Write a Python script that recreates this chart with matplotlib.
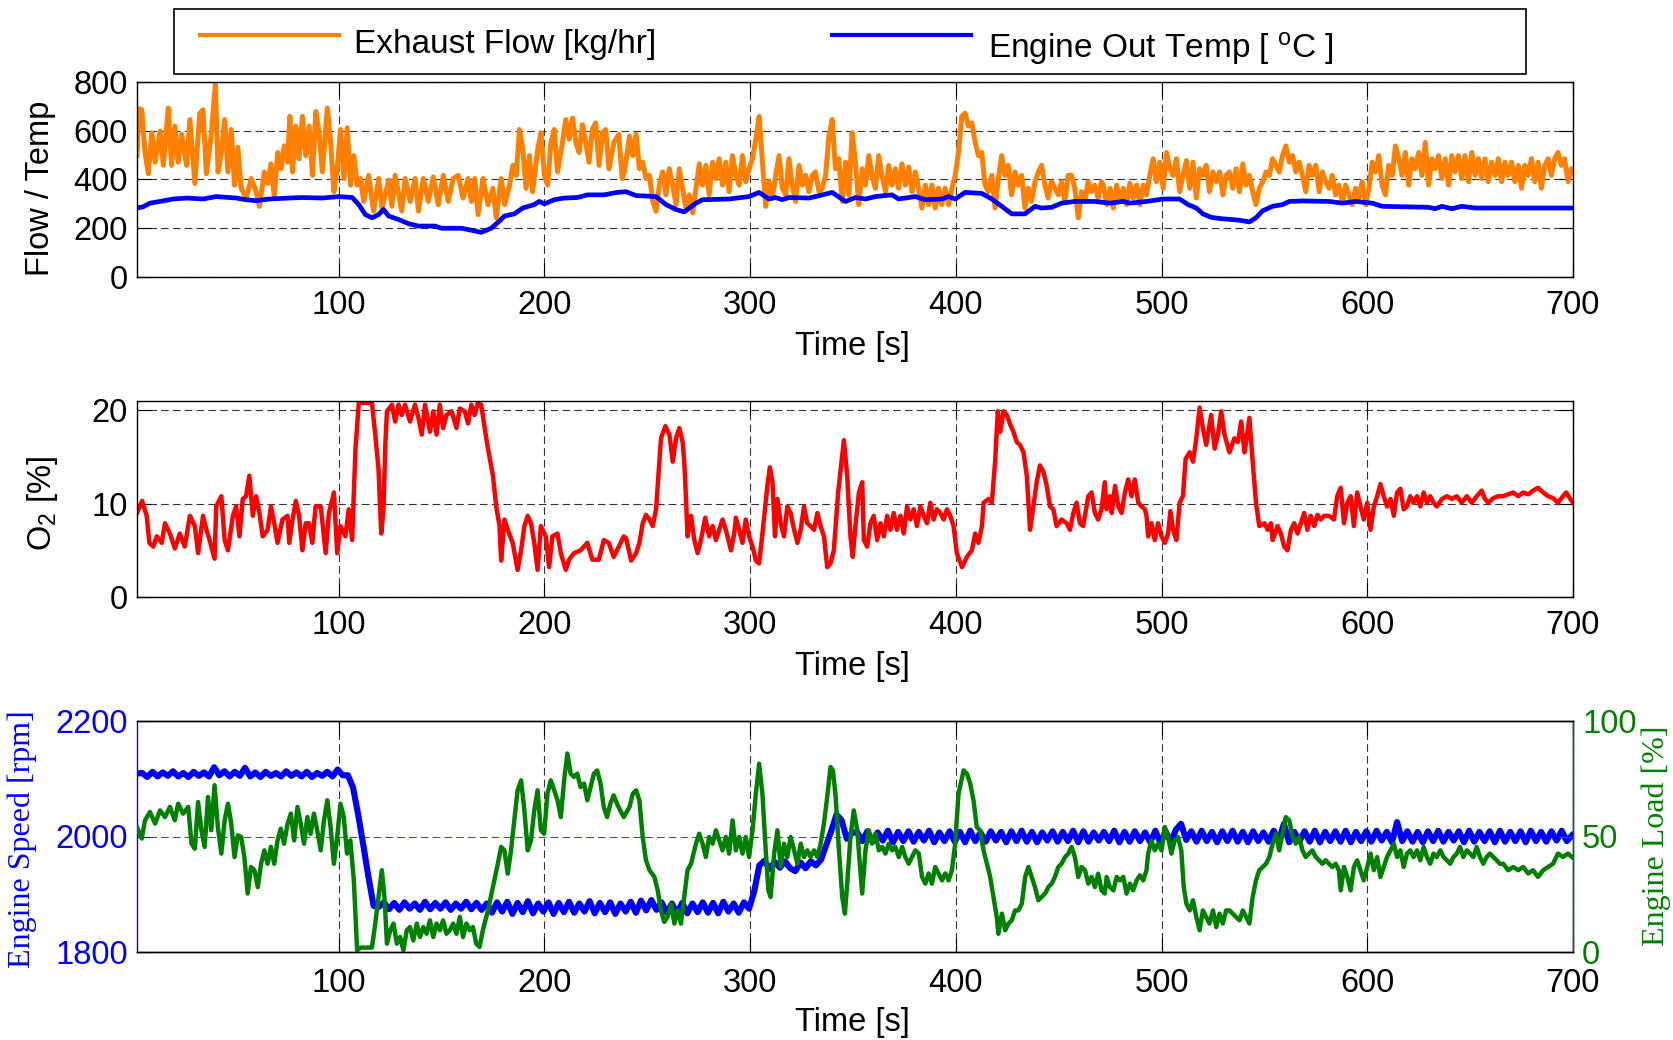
import numpy as np
import matplotlib
matplotlib.use("Agg")
import matplotlib.pyplot as plt
from matplotlib.patches import Rectangle
from matplotlib.lines import Line2D

# ---------------------------------------------------------------- data
# (time [s], exhaust flow [kg/hr])
exhaust_flow = [
    (2.0, 500), (3.0, 690), (4.3, 686), (5.9, 511), (7.5, 424), (9.2, 592), (10.8, 471), (13.2, 599),
    (14.8, 458), (17.2, 693), (18.8, 458), (20.4, 619), (22.0, 471), (23.7, 585), (26.1, 458), (27.7, 646),
    (30.1, 384), (32.5, 672), (34.1, 686), (35.7, 424), (38.2, 592), (40.1, 793), (41.4, 431), (43.0, 511),
    (44.6, 646), (46.2, 431), (47.8, 605), (49.4, 377), (51.0, 532), (52.6, 364), (55.1, 324), (57.5, 404),
    (59.9, 350), (61.5, 290), (63.9, 431), (65.5, 384), (67.1, 464), (68.7, 330), (70.4, 511), (72.0, 444),
    (73.6, 538), (75.2, 471), (76.3, 659), (77.6, 431), (79.2, 619), (80.8, 485), (82.4, 659), (84.0, 498),
    (85.7, 619), (87.3, 417), (88.9, 679), (90.5, 592), (92.1, 431), (94.5, 693), (96.1, 552), (97.7, 350),
    (99.3, 444), (100.9, 605), (102.6, 404), (104.2, 612), (105.8, 377), (107.4, 498), (109.0, 377),
    (110.6, 404), (112.2, 310), (114.6, 417), (117.0, 270), (119.5, 404), (121.1, 283), (124.3, 397),
    (125.9, 290), (127.5, 417), (130.7, 270), (132.3, 404), (134.8, 310), (137.2, 404), (138.8, 270),
    (141.2, 404), (143.6, 310), (146.0, 411), (148.4, 297), (150.9, 417), (153.3, 310), (155.7, 404),
    (158.1, 417), (160.5, 324), (162.9, 404), (164.6, 310), (166.2, 404), (167.8, 256), (170.2, 404),
    (172.6, 297), (175.0, 364), (176.6, 243), (179.0, 404), (180.7, 297), (183.1, 377), (184.7, 458),
    (186.3, 417), (187.9, 605), (189.5, 525), (191.1, 364), (192.7, 498), (194.3, 350), (196.8, 525),
    (198.4, 592), (200.0, 417), (201.6, 377), (203.2, 552), (204.8, 605), (206.4, 431), (208.8, 552),
    (210.4, 646), (212.1, 565), (213.7, 652), (215.3, 552), (216.9, 511), (218.5, 625), (220.1, 552),
    (221.7, 471), (223.3, 605), (224.9, 632), (226.6, 458), (228.2, 592), (229.8, 605), (231.4, 444),
    (233.8, 552), (236.2, 585), (237.8, 404), (238.9, 431), (241.4, 578), (243.0, 498), (244.6, 585),
    (246.2, 444), (247.8, 471), (249.4, 404), (251.1, 417), (252.7, 310), (254.3, 270), (255.9, 377),
    (257.5, 431), (259.1, 337), (260.7, 444), (262.4, 377), (264.0, 297), (265.6, 444), (267.2, 364),
    (268.8, 283), (270.4, 337), (272.1, 263), (273.7, 364), (275.3, 464), (276.9, 377), (278.5, 458),
    (280.1, 337), (281.8, 471), (283.4, 404), (285.0, 485), (286.6, 377), (288.2, 471), (289.8, 350),
    (291.4, 498), (293.1, 417), (294.7, 377), (296.3, 498), (297.9, 391), (299.5, 444), (301.1, 485),
    (302.8, 565), (304.4, 659), (306.0, 471), (307.6, 290), (309.2, 391), (310.8, 324), (312.4, 417),
    (314.1, 498), (315.7, 364), (317.3, 337), (318.9, 485), (320.5, 377), (322.1, 310), (323.8, 458),
    (325.4, 377), (327.0, 417), (328.6, 350), (330.2, 417), (331.8, 431), (333.5, 350), (335.1, 364),
    (336.7, 417), (338.3, 578), (339.9, 646), (341.5, 444), (343.1, 485), (344.8, 310), (346.4, 471),
    (348.0, 337), (349.6, 592), (351.2, 471), (352.8, 297), (354.5, 444), (356.1, 377), (357.7, 498),
    (359.3, 417), (360.9, 364), (362.5, 498), (364.1, 417), (365.8, 350), (367.4, 458), (369.0, 377),
    (370.6, 444), (372.2, 364), (373.8, 464), (375.5, 377), (377.1, 451), (378.7, 350), (380.3, 431),
    (381.9, 364), (383.5, 283), (385.2, 377), (386.8, 297), (388.4, 377), (390.0, 283), (391.6, 364),
    (393.2, 297), (394.8, 364), (396.5, 297), (398.1, 364), (399.7, 417), (401.3, 511), (402.9, 659),
    (404.5, 672), (406.1, 619), (407.8, 632), (409.4, 552), (411.0, 498), (412.6, 511), (414.2, 377),
    (415.8, 350), (417.5, 417), (419.1, 283), (420.7, 404), (422.3, 498), (423.9, 417), (425.5, 458),
    (427.1, 337), (428.8, 431), (430.4, 377), (432.0, 417), (433.6, 283), (435.2, 364), (436.8, 310),
    (438.5, 391), (440.1, 431), (441.7, 458), (443.3, 377), (444.9, 324), (446.5, 391), (448.2, 364),
    (449.8, 337), (451.4, 391), (453.0, 310), (454.6, 417), (456.2, 417), (457.8, 364), (459.5, 243),
    (461.1, 350), (462.7, 310), (464.3, 391), (465.9, 350), (467.5, 377), (469.2, 324), (470.8, 391),
    (471.7, 377), (473.3, 297), (475.0, 364), (476.6, 283), (478.2, 377), (479.8, 310), (481.4, 364),
    (483.0, 297), (484.6, 384), (486.2, 324), (487.9, 377), (489.5, 297), (491.1, 377), (492.7, 337),
    (494.3, 417), (495.9, 485), (497.5, 391), (499.1, 471), (500.8, 364), (502.4, 511), (504.0, 444),
    (505.6, 417), (507.2, 485), (508.8, 350), (510.4, 417), (512.1, 478), (513.7, 364), (515.3, 471),
    (516.9, 324), (518.5, 444), (520.1, 417), (521.7, 458), (523.3, 350), (525.0, 431), (526.6, 391),
    (528.2, 431), (529.8, 337), (531.4, 417), (533.0, 431), (534.6, 364), (536.2, 444), (537.9, 350),
    (539.5, 464), (541.1, 377), (542.7, 417), (544.3, 350), (545.9, 297), (547.5, 364), (549.2, 391),
    (550.8, 431), (552.4, 417), (554.0, 485), (555.6, 458), (557.2, 431), (558.8, 498), (560.4, 538),
    (562.1, 471), (563.7, 498), (565.3, 431), (566.9, 471), (568.5, 417), (570.1, 350), (571.7, 458),
    (573.3, 417), (575.0, 458), (576.6, 350), (578.2, 431), (579.8, 391), (581.4, 364), (583.0, 417),
    (584.6, 337), (586.2, 377), (587.9, 310), (589.5, 377), (591.1, 337), (592.7, 297), (594.3, 364),
    (595.9, 324), (597.5, 391), (599.2, 297), (600.8, 364), (602.4, 471), (604.0, 431), (605.6, 498),
    (607.2, 377), (608.8, 337), (610.4, 458), (612.1, 417), (613.7, 538), (615.3, 485), (616.9, 417),
    (618.5, 511), (620.1, 377), (621.7, 485), (623.3, 444), (625.0, 511), (626.6, 417), (628.2, 552),
    (629.8, 377), (631.4, 485), (633.0, 444), (634.6, 498), (636.3, 404), (637.9, 485), (639.5, 377),
    (641.1, 498), (642.7, 431), (644.3, 498), (645.9, 404), (647.5, 498), (649.2, 391), (650.8, 511),
    (652.4, 417), (654.0, 485), (655.6, 404), (657.2, 485), (658.8, 391), (660.4, 471), (662.1, 417),
    (663.7, 485), (665.3, 391), (666.9, 471), (668.5, 417), (670.1, 471), (671.7, 391), (673.4, 458),
    (675.0, 364), (676.6, 458), (678.2, 417), (679.8, 485), (681.4, 391), (683.0, 471), (684.6, 364),
    (686.3, 458), (687.9, 485), (689.5, 417), (691.1, 485), (692.7, 511), (694.3, 458), (695.9, 485),
    (697.6, 391), (699.2, 444), (700.0, 430),
]

# (time [s], engine-out temperature [degC])
engine_out_temp = [
    (2.0, 283), (5.0, 288), (8.3, 303), (13.2, 310), (19.6, 320), (26.1, 324), (34.1, 320), (40.5, 330),
    (50.2, 324), (55.0, 317), (59.9, 313), (66.3, 320), (76.0, 324), (82.4, 326), (92.1, 324), (100.1, 330),
    (106.6, 326), (109.8, 297), (113.0, 256), (116.2, 243), (119.4, 256), (121.8, 277), (124.3, 250),
    (129.1, 236), (133.9, 219), (138.8, 209), (146.8, 209), (150.0, 200), (159.7, 200), (164.5, 192),
    (169.3, 183), (174.2, 200), (178.2, 230), (180.6, 250), (185.4, 259), (189.5, 283), (195.1, 297),
    (197.5, 310), (200.0, 300), (204.8, 317), (209.6, 324), (216.0, 326), (220.9, 337), (228.9, 337),
    (235.4, 347), (239.7, 350), (244.6, 334), (254.3, 330), (259.1, 297), (264.0, 277), (268.0, 267),
    (273.7, 303), (276.9, 317), (289.8, 320), (299.5, 330), (304.4, 347), (309.2, 320), (312.4, 326),
    (315.7, 317), (318.9, 326), (328.6, 324), (331.8, 330), (339.9, 347), (346.4, 310), (351.2, 326),
    (356.1, 320), (360.9, 330), (369.0, 337), (372.2, 320), (380.3, 330), (385.2, 317), (393.2, 320),
    (396.5, 330), (399.7, 320), (404.5, 347), (412.6, 343), (417.5, 320), (422.3, 290), (427.2, 259),
    (433.6, 259), (438.5, 290), (441.7, 283), (446.6, 286), (451.4, 303), (457.9, 310), (467.6, 310),
    (474.9, 303), (481.4, 310), (484.6, 303), (492.7, 310), (500.8, 320), (508.8, 320), (512.9, 297),
    (516.9, 283), (520.1, 259), (524.1, 245), (528.2, 240), (537.9, 233), (542.7, 226), (545.9, 243),
    (549.2, 272), (554.0, 290), (558.8, 297), (562.1, 310), (568.5, 312), (581.4, 310), (587.9, 303),
    (594.3, 310), (602.4, 303), (607.2, 290), (629.8, 286), (633.0, 280), (636.3, 290), (641.1, 280),
    (645.9, 290), (652.4, 283), (657.2, 283), (699.2, 283), (700.0, 283),
]

# (time [s], O2 [%])
o2_percent = [
    (2.0, 9.0), (4.5, 10.3), (6.7, 8.7), (8.0, 5.8), (9.9, 5.4), (11.6, 6.5), (14.0, 5.8), (15.6, 7.9),
    (18.0, 6.8), (20.4, 5.2), (22.8, 6.8), (25.2, 5.4), (27.7, 8.7), (30.1, 7.6), (31.7, 4.7), (34.1, 8.7),
    (35.7, 7.2), (37.3, 6.1), (39.7, 4.1), (40.5, 9.7), (43.0, 10.8), (44.6, 6.1), (46.2, 5.0), (48.6, 8.7),
    (50.2, 9.7), (51.8, 6.5), (53.4, 10.5), (55.0, 10.8), (56.6, 13.0), (58.3, 8.7), (59.9, 10.8),
    (61.5, 9.0), (63.1, 6.5), (65.5, 7.2), (67.1, 9.7), (68.7, 7.9), (70.3, 5.8), (72.7, 8.3), (75.2, 8.7),
    (76.0, 5.8), (77.6, 8.3), (79.2, 10.3), (80.8, 8.7), (82.4, 5.0), (84.0, 7.9), (85.6, 7.9), (87.2, 5.8),
    (88.8, 9.7), (91.3, 9.7), (93.7, 4.7), (95.3, 9.0), (97.7, 11.2), (99.3, 4.7), (100.9, 7.6),
    (103.3, 6.5), (104.9, 9.4), (106.6, 6.1), (107.4, 11.2), (108.2, 15.9), (109.8, 20.8), (116.2, 20.8),
    (117.8, 17.4), (119.4, 13.7), (120.7, 6.8), (121.8, 9.4), (122.7, 16.3), (123.5, 19.9), (125.9, 20.6),
    (127.5, 18.8), (129.1, 20.6), (130.7, 19.5), (132.3, 20.6), (134.7, 18.8), (137.1, 20.6), (138.8, 19.2),
    (140.4, 17.4), (142.0, 20.6), (144.4, 17.7), (146.0, 19.9), (147.6, 17.4), (149.2, 20.6), (150.8, 18.1),
    (152.4, 19.5), (154.9, 19.9), (157.3, 18.1), (158.9, 20.2), (161.3, 19.9), (162.9, 18.6), (164.5, 20.6),
    (166.1, 19.5), (167.7, 20.8), (169.3, 20.6), (171.0, 18.1), (172.6, 15.9), (175.0, 13.0), (176.6, 9.7),
    (178.2, 7.6), (179.0, 3.9), (180.6, 8.3), (182.2, 7.2), (184.6, 5.8), (187.0, 2.9), (188.7, 5.0),
    (190.3, 7.6), (191.9, 8.7), (193.5, 7.9), (195.1, 5.8), (196.7, 2.9), (198.3, 7.6), (200.7, 6.5),
    (202.3, 3.2), (203.9, 6.5), (206.4, 6.8), (208.0, 4.7), (210.4, 2.9), (212.0, 4.0), (214.4, 4.7),
    (217.6, 5.0), (220.9, 5.8), (223.3, 4.0), (226.5, 4.0), (228.9, 6.1), (231.3, 5.8), (233.7, 4.3),
    (236.2, 5.4), (238.6, 6.5), (239.7, 6.3), (242.2, 3.9), (244.6, 4.7), (246.2, 5.8), (247.8, 7.9),
    (249.4, 8.8), (251.1, 8.3), (252.7, 7.6), (254.3, 9.4), (255.6, 13.6), (256.7, 17.0), (258.8, 18.3),
    (260.8, 17.4), (262.4, 14.5), (264.0, 17.0), (265.6, 18.1), (267.2, 16.6), (268.0, 14.5), (268.8, 10.8),
    (269.6, 6.5), (271.3, 8.7), (272.9, 6.1), (274.5, 4.7), (276.1, 6.1), (278.2, 8.5), (280.1, 6.5),
    (281.8, 7.6), (283.4, 6.1), (286.6, 8.3), (288.2, 7.2), (290.7, 5.0), (292.3, 6.8), (293.1, 8.5),
    (294.7, 7.2), (296.3, 5.8), (297.9, 8.3), (299.5, 6.5), (301.2, 5.4), (302.8, 3.9), (304.4, 3.6),
    (306.0, 6.8), (308.4, 11.9), (309.6, 13.9), (310.9, 12.3), (312.1, 6.5), (313.3, 10.5), (314.9, 7.9),
    (316.5, 6.5), (318.1, 9.7), (319.7, 9.0), (321.4, 7.2), (323.0, 5.8), (324.6, 7.2), (326.2, 9.7),
    (327.8, 7.9), (329.4, 7.6), (331.1, 7.2), (332.7, 9.0), (334.3, 7.6), (335.9, 6.5), (337.5, 3.2),
    (339.1, 3.6), (340.7, 5.0), (342.8, 11.2), (344.8, 15.2), (345.6, 16.8), (347.2, 13.0), (348.8, 6.5),
    (349.9, 4.3), (351.2, 7.6), (352.9, 11.2), (354.5, 12.3), (355.3, 6.1), (356.9, 5.4), (358.5, 7.9),
    (360.1, 8.7), (361.8, 6.1), (363.4, 7.9), (365.0, 6.5), (366.6, 8.7), (368.2, 7.2), (369.8, 9.0),
    (371.4, 7.2), (373.1, 8.7), (374.7, 6.8), (376.3, 9.7), (377.9, 8.3), (379.5, 9.4), (381.1, 7.6),
    (382.8, 9.7), (384.4, 8.7), (386.0, 7.9), (387.6, 10.1), (389.2, 8.3), (390.8, 9.4), (392.5, 9.0),
    (394.1, 8.3), (395.7, 9.4), (397.3, 8.7), (398.9, 7.6), (400.5, 4.7), (403.0, 3.2), (405.4, 4.3),
    (407.8, 5.0), (409.4, 6.8), (411.0, 5.8), (412.7, 7.6), (413.5, 10.1), (415.9, 10.5), (417.5, 10.1),
    (419.1, 14.5), (420.4, 19.9), (421.6, 17.7), (423.2, 19.9), (424.8, 19.5), (426.4, 18.5), (428.0, 17.7),
    (429.6, 16.6), (431.2, 16.3), (432.9, 15.5), (434.5, 13.0), (436.1, 7.2), (437.7, 9.7), (439.3, 12.3),
    (440.9, 14.1), (442.6, 13.4), (444.2, 11.9), (445.8, 9.7), (447.4, 9.4), (449.0, 7.6), (451.4, 8.3),
    (453.9, 7.9), (455.5, 7.2), (457.1, 9.0), (458.7, 10.1), (460.3, 7.9), (461.9, 7.6), (464.4, 10.8),
    (466.0, 11.2), (467.6, 9.0), (469.2, 8.3), (470.8, 9.4), (472.4, 12.3), (473.3, 9.4), (474.9, 10.8),
    (475.8, 9.0), (477.4, 11.9), (479.0, 9.7), (480.6, 9.0), (482.2, 11.2), (483.8, 12.6), (485.4, 10.8),
    (487.0, 12.6), (488.7, 10.1), (490.3, 9.7), (491.9, 9.4), (492.7, 8.7), (493.5, 6.5), (495.1, 7.9),
    (496.7, 6.1), (498.3, 7.9), (500.0, 6.5), (501.6, 5.8), (503.2, 6.8), (504.3, 9.2), (505.6, 7.2),
    (507.2, 6.1), (508.8, 10.1), (510.4, 10.8), (511.7, 14.8), (513.7, 15.5), (515.3, 14.5), (516.9, 17.0),
    (518.5, 20.3), (520.1, 18.1), (521.7, 16.3), (524.1, 19.5), (525.8, 15.9), (527.4, 17.4), (529.0, 19.9),
    (530.6, 17.4), (533.0, 15.5), (535.4, 17.0), (537.1, 16.6), (538.7, 18.8), (540.3, 15.5), (541.1, 16.6),
    (542.7, 19.2), (544.3, 14.5), (545.9, 10.1), (547.5, 7.6), (550.0, 7.9), (551.6, 7.2), (553.2, 7.9),
    (554.0, 6.1), (556.4, 7.6), (558.0, 6.8), (559.6, 5.4), (561.2, 5.0), (562.9, 7.2), (564.5, 7.9),
    (566.1, 6.8), (567.7, 7.9), (569.3, 9.0), (570.9, 7.2), (572.5, 8.7), (574.2, 7.6), (575.8, 8.8),
    (577.4, 8.3), (579.0, 8.7), (581.4, 8.7), (583.8, 8.3), (585.4, 10.8), (587.1, 11.7), (588.7, 7.9),
    (590.3, 10.1), (591.9, 10.8), (593.5, 7.6), (595.1, 11.2), (596.7, 9.7), (598.3, 8.3), (600.0, 10.1),
    (601.6, 7.2), (603.2, 9.7), (604.8, 10.8), (606.4, 12.1), (608.0, 10.8), (609.6, 9.7), (611.3, 10.5),
    (612.9, 8.7), (614.5, 11.2), (616.1, 11.6), (617.7, 9.4), (619.3, 9.7), (620.9, 10.8), (622.5, 10.1),
    (624.2, 10.8), (625.8, 9.7), (627.4, 11.2), (629.0, 10.1), (630.6, 10.8), (632.2, 10.1), (633.8, 9.7),
    (636.3, 10.5), (638.7, 10.8), (641.1, 10.5), (643.5, 10.8), (645.9, 10.1), (648.4, 10.8), (650.8, 10.1),
    (653.2, 10.8), (655.6, 11.4), (657.2, 10.5), (658.8, 10.1), (661.3, 10.6), (663.7, 10.8), (666.1, 10.8),
    (668.5, 11.0), (670.9, 11.2), (673.4, 10.8), (675.8, 11.2), (678.2, 11.0), (680.6, 11.4), (683.0, 11.7),
    (685.5, 11.2), (687.9, 10.8), (690.3, 10.6), (692.7, 10.1), (695.1, 10.8), (696.7, 11.2), (698.4, 10.6),
    (700.0, 10.1),
]

# engine speed [rpm], logged every 2.5 s from t = 2 s
speed_start, speed_step = 2.0, 2.5
engine_speed = [
    2109, 2110, 2103, 2112, 2104, 2111, 2105, 2113, 2104, 2110, 2103,
    2112, 2105, 2111, 2104, 2120, 2106, 2113, 2104, 2112, 2105,
    2119, 2104, 2111, 2103, 2112, 2105, 2110, 2104, 2113, 2105,
    2111, 2104, 2112, 2103, 2110, 2105, 2112, 2104, 2116, 2106,
    2106, 2085, 2038, 1985, 1930, 1880,
    1878, 1886, 1874, 1885, 1873, 1886, 1875, 1884, 1873, 1887,
    1874, 1885, 1875, 1886, 1873, 1884, 1875, 1887, 1874, 1885, 1873,
    1884, 1868, 1886, 1870, 1887, 1866, 1885, 1869, 1888, 1867,
    1884, 1870, 1886, 1866, 1885, 1869, 1887, 1868, 1884, 1870,
    1888, 1867, 1885, 1869, 1886, 1866, 1884, 1870, 1887, 1868,
    1889, 1872, 1890, 1873, 1886, 1868, 1884, 1866, 1885, 1867,
    1884, 1869, 1886, 1868, 1885, 1867, 1887, 1870, 1884, 1868,
    1886, 1875,
    1905, 1950, 1958, 1944, 1956, 1946, 1957, 1945, 1940, 1955,
    1945, 1957, 1950, 1960, 1985, 2010, 2038, 2028, 1996, 2006,
    2008, 1992, 2009, 1991, 2007, 1993, 2010, 1990, 2008, 1992,
    2009, 1991, 2008, 1993, 2010, 1990, 2007, 1992, 2009, 1991,
    2008, 1990, 2010, 1992, 2007, 1991, 2009, 1993, 2008, 1990,
    2009, 1992, 2010, 1991, 2008, 1990, 2007, 1993, 2009, 1991,
    2008, 1992, 2010, 1990, 2009, 1991, 2007, 1993, 2008, 1992,
    2010, 1990, 2008, 1991, 2009, 1992, 2007, 1990, 2010, 1988,
    2009, 1990, 2012, 2022, 1994, 2009, 1991, 2010, 1992, 2008,
    1990, 2009, 1992, 2010, 1991, 2008, 1990, 2009, 1992, 2007,
    1991, 2010, 1993, 2022, 1990, 2008, 1992, 2009, 1991, 2010,
    1990, 2008, 1992, 2009, 1991, 2010, 1990, 2008, 1992, 2009,
    1991, 2010, 1993, 2008, 1990, 2025, 1992, 2009, 1991, 2008,
    1990, 2009, 1992, 2010, 1991, 2008, 1993, 2009, 1990, 2010,
    1991, 2008, 1992, 2009, 1990, 2010, 1991, 2008, 1992, 2009,
    1990, 2010, 1992, 2008, 1991, 2009, 1993, 2010, 1992, 2002,
]

# (time [s], engine load [%])
engine_load = [
    (2.0, 54.0), (4.3, 49.1), (5.9, 57.0), (8.3, 60.6), (10.8, 55.6), (13.2, 61.3), (15.6, 58.4),
    (18.0, 62.8), (20.4, 57.0), (22.0, 64.2), (24.4, 59.9), (26.9, 62.8), (28.5, 46.9), (30.1, 44.7),
    (31.7, 64.9), (33.3, 52.7), (34.9, 45.5), (36.5, 67.1), (38.1, 52.7), (39.7, 72.2), (41.3, 54.1),
    (43.0, 42.6), (44.6, 57.0), (46.2, 64.2), (47.8, 55.6), (49.4, 41.1), (51.0, 50.5), (52.6, 49.8),
    (54.2, 41.1), (55.8, 25.3), (57.4, 36.8), (59.1, 35.4), (60.7, 28.1), (62.3, 38.2), (63.9, 44.0),
    (65.5, 38.2), (67.1, 45.5), (68.7, 38.2), (70.3, 48.3), (71.9, 53.4), (73.5, 46.9), (75.2, 55.6),
    (76.8, 59.9), (78.4, 48.3), (80.0, 62.8), (81.6, 55.6), (83.2, 46.9), (84.8, 58.4), (86.4, 51.2),
    (88.0, 59.9), (89.6, 52.7), (91.3, 44.0), (92.9, 57.0), (94.5, 65.7), (96.1, 54.1), (97.7, 38.2),
    (99.3, 49.8), (100.9, 64.2), (102.5, 58.4), (104.1, 42.6), (105.7, 48.3), (107.4, 31.0), (109.0, 0.7),
    (110.6, 1.9), (116.2, 1.9), (117.8, 12.3), (119.4, 23.8), (121.0, 35.4), (122.3, 23.8), (123.5, 3.6),
    (125.1, 9.4), (126.7, 12.3), (128.3, 3.6), (129.9, 6.5), (131.5, 0.7), (133.1, 9.4), (134.7, 10.8),
    (136.3, 5.0), (138.0, 12.3), (139.6, 6.5), (141.2, 10.8), (142.8, 7.9), (144.4, 13.7), (146.0, 6.5),
    (147.6, 12.3), (149.2, 9.4), (150.8, 13.7), (152.4, 7.9), (154.0, 9.4), (155.7, 12.3), (157.3, 7.9),
    (158.9, 15.2), (160.5, 6.5), (162.1, 12.3), (163.7, 9.4), (165.3, 10.8), (166.9, 3.6), (168.5, 2.2),
    (170.1, 9.4), (172.6, 18.0), (175.0, 28.1), (177.4, 38.2), (179.0, 45.5), (180.6, 44.0), (182.2, 33.9),
    (183.8, 44.0), (185.4, 57.0), (187.0, 70.0), (188.7, 74.3), (190.3, 61.3), (191.9, 44.0), (193.5, 48.3),
    (195.1, 61.3), (196.7, 70.0), (198.3, 52.7), (199.9, 51.2), (201.5, 68.5), (203.1, 74.3), (204.8, 70.0),
    (206.4, 65.7), (208.0, 58.4), (209.6, 74.3), (211.2, 85.9), (212.8, 77.2), (214.4, 75.8), (216.0, 77.2),
    (217.6, 71.4), (219.3, 72.9), (220.9, 65.7), (222.5, 71.4), (224.1, 77.2), (225.7, 78.6), (227.3, 72.9),
    (228.9, 62.8), (230.5, 58.4), (232.1, 64.2), (233.7, 67.8), (235.3, 64.2), (236.9, 61.3), (238.6, 58.4),
    (241.4, 62.8), (243.0, 68.5), (244.6, 70.0), (246.2, 65.7), (247.8, 49.8), (249.4, 39.7), (251.1, 35.4),
    (253.5, 32.5), (255.1, 26.7), (256.7, 18.0), (258.3, 13.0), (259.9, 15.2), (261.6, 20.9), (263.2, 12.3),
    (264.8, 18.0), (266.4, 12.3), (268.0, 23.8), (269.6, 35.4), (271.3, 38.2), (273.7, 46.9), (275.3, 51.2),
    (276.9, 46.9), (278.5, 41.1), (280.1, 49.8), (281.8, 46.9), (283.4, 52.7), (285.0, 48.3), (286.6, 44.0),
    (288.2, 49.8), (289.8, 42.6), (291.5, 57.0), (293.1, 44.0), (294.7, 49.8), (296.3, 42.6), (297.9, 49.8),
    (299.5, 41.1), (301.2, 52.7), (302.8, 68.5), (304.4, 81.5), (306.0, 68.5), (307.6, 44.0), (308.9, 26.7),
    (310.0, 23.8), (311.7, 42.6), (313.3, 52.7), (314.9, 36.8), (316.5, 46.9), (318.1, 41.1), (319.7, 49.8),
    (321.4, 44.0), (323.0, 38.2), (324.6, 46.9), (326.2, 41.1), (327.8, 44.0), (329.4, 41.1), (331.1, 44.0),
    (332.7, 41.1), (334.3, 46.9), (335.9, 55.6), (337.5, 67.1), (339.1, 80.1), (340.3, 78.6), (341.6, 67.1),
    (343.2, 44.0), (344.8, 23.8), (346.1, 16.6), (347.2, 29.6), (348.8, 49.8), (350.4, 61.3), (352.1, 52.7),
    (353.2, 39.7), (354.5, 25.3), (356.1, 44.0), (357.7, 52.7), (359.3, 46.9), (360.9, 51.2), (362.6, 44.0),
    (364.2, 45.5), (365.8, 42.6), (367.4, 46.9), (369.0, 44.0), (370.6, 45.5), (372.3, 41.1), (373.9, 45.5),
    (375.5, 41.1), (377.1, 38.2), (378.7, 41.1), (380.3, 44.0), (382.0, 42.6), (383.6, 32.5), (385.2, 29.6),
    (386.8, 34.0), (388.4, 29.6), (390.0, 36.8), (391.6, 34.0), (393.3, 31.0), (394.9, 34.0), (396.5, 31.0),
    (398.1, 35.4), (399.7, 46.9), (401.3, 68.5), (403.8, 78.6), (405.4, 77.2), (407.0, 72.9), (408.6, 65.7),
    (410.2, 54.1), (411.8, 52.7), (413.5, 44.0), (415.1, 38.2), (416.7, 32.5), (418.3, 23.8), (419.9, 15.2),
    (420.7, 7.9), (422.4, 16.6), (424.0, 9.4), (425.6, 12.3), (427.2, 13.7), (428.8, 18.0), (430.4, 18.0),
    (432.1, 20.9), (433.7, 32.5), (435.3, 36.8), (436.9, 32.5), (438.5, 28.1), (440.1, 22.4), (441.7, 23.8),
    (443.4, 25.3), (445.0, 28.1), (446.6, 29.6), (448.2, 32.5), (449.8, 36.8), (451.4, 38.2), (453.1, 41.1),
    (454.7, 42.6), (456.3, 45.5), (457.9, 41.1), (459.5, 32.5), (461.1, 36.8), (462.8, 35.4), (464.4, 29.6),
    (466.0, 32.5), (467.6, 28.1), (469.2, 33.9), (470.8, 26.7), (472.4, 25.3), (473.3, 32.5), (474.9, 28.1),
    (476.6, 26.7), (478.2, 32.5), (479.8, 31.0), (481.4, 32.5), (483.0, 25.3), (484.6, 29.6), (486.2, 26.7),
    (487.9, 31.0), (489.5, 33.2), (491.1, 31.0), (492.7, 35.4), (493.5, 42.6), (495.1, 48.3), (496.7, 44.0),
    (498.3, 46.9), (500.0, 44.0), (501.6, 54.1), (503.2, 49.8), (504.8, 42.6), (506.4, 48.3), (508.0, 49.8),
    (509.6, 44.0), (510.8, 28.1), (512.1, 20.9), (513.7, 18.0), (515.3, 22.4), (516.9, 15.2), (518.5, 9.4),
    (520.1, 18.0), (521.7, 15.2), (523.3, 12.3), (525.0, 18.0), (526.6, 10.8), (528.2, 16.6), (529.8, 12.3),
    (531.4, 18.0), (533.0, 18.0), (534.6, 16.6), (536.2, 15.2), (537.9, 13.7), (539.5, 18.0), (541.1, 15.2),
    (542.7, 12.3), (544.3, 23.8), (545.9, 31.0), (547.5, 35.4), (549.2, 36.8), (550.8, 38.2), (552.4, 41.1),
    (554.0, 46.9), (555.6, 51.2), (557.2, 44.0), (558.8, 51.2), (560.4, 58.4), (562.1, 57.0), (563.7, 49.8),
    (565.3, 46.9), (566.9, 49.8), (568.5, 44.0), (570.1, 41.1), (571.7, 42.6), (573.3, 44.0), (575.0, 41.1),
    (576.6, 39.7), (578.2, 38.2), (579.8, 39.7), (581.4, 38.2), (583.0, 36.8), (584.6, 38.2), (586.2, 35.4),
    (587.1, 26.7), (588.7, 36.8), (590.3, 32.5), (591.9, 26.7), (593.5, 36.8), (595.1, 39.7), (596.7, 35.4),
    (598.3, 31.0), (600.0, 36.8), (601.6, 42.6), (603.2, 35.4), (604.8, 41.1), (606.4, 32.5), (608.0, 36.8),
    (609.6, 41.1), (611.3, 44.0), (612.9, 46.9), (614.5, 41.1), (616.1, 44.0), (617.7, 36.8), (619.3, 42.6),
    (620.9, 44.0), (622.5, 41.1), (624.2, 44.0), (625.8, 39.7), (627.4, 45.5), (629.0, 41.1), (630.6, 38.2),
    (632.2, 42.6), (633.8, 41.1), (635.5, 44.0), (637.1, 41.1), (638.7, 39.7), (640.3, 38.2), (641.9, 41.1),
    (643.5, 42.6), (645.1, 45.5), (646.7, 41.1), (648.4, 44.0), (650.0, 42.6), (651.6, 41.1), (653.2, 45.5),
    (654.8, 41.1), (656.4, 38.2), (658.0, 41.1), (659.6, 42.6), (661.3, 41.1), (662.9, 39.7), (664.5, 38.2),
    (666.1, 38.2), (668.5, 35.4), (670.9, 36.8), (673.4, 35.4), (675.8, 36.8), (678.2, 34.0), (680.6, 35.4),
    (683.0, 32.5), (685.5, 35.4), (687.9, 36.8), (690.3, 38.2), (692.7, 42.6), (695.1, 41.1), (697.6, 42.6),
    (699.5, 41.1),
]

time_ticks = [100, 200, 300, 400, 500, 600, 700]
flow_ticks = [0, 200, 400, 600, 800]
o2_ticks = [0, 10, 20]
speed_ticks = [1800, 2000, 2200]
load_ticks = [0, 50, 100]

# ---------------------------------------------------------------- style
plt.rcParams.update({
    "font.family": ["Liberation Sans", "DejaVu Sans"],
    "mathtext.fontset": "custom",
    "mathtext.rm": "Liberation Sans",
    "mathtext.it": "Liberation Sans:italic",
    "mathtext.bf": "Liberation Sans:bold",
    "mathtext.default": "regular",
    "lines.scale_dashes": False,
    "axes.linewidth": 1.0,
})

ORANGE = "#FF8000"
BLUE = "#0000FF"
RED = "#FF0000"
GREEN = "#008000"
DASH = (0, (5.5, 3.0))
FS = 23.5

W_PX, H_PX = 1673, 1040
fig = plt.figure(figsize=(W_PX / 100, H_PX / 100), dpi=100)


def px_box(x0, y0, x1, y1):
    """Axes rectangle from pixel edges (top-left origin)."""
    return [x0 / W_PX, 1 - y1 / H_PX, (x1 - x0) / W_PX, (y1 - y0) / H_PX]


def style(ax, ylim, yticks, xpad=9.5):
    ax.set_xlim(2, 700)
    ax.set_ylim(*ylim)
    ax.set_xticks(time_ticks)
    ax.set_yticks(yticks)
    ax.tick_params(direction="in", length=10, width=0.8, labelsize=FS)
    ax.tick_params(axis="x", pad=xpad, top=True)
    ax.tick_params(axis="y", pad=6.5)


# ---- exhaust flow / engine-out temperature
ax1 = fig.add_axes(px_box(137, 82, 1573, 277))
ft, fv = np.array(exhaust_flow).T
tt, tv = np.array(engine_out_temp).T
ax1.plot(ft, fv, color=ORANGE, lw=3.6)
ax1.plot(tt, tv, color=BLUE, lw=3.4)
style(ax1, (0, 800), flow_ticks)
ax1.tick_params(axis="y", right=True)
ax1.grid(True, color="#333333", ls=DASH, lw=0.8)

# ---- O2
ax2 = fig.add_axes(px_box(137, 401, 1573, 597))
ot, ov = np.array(o2_percent).T
ax2.plot(ot, ov, color=RED, lw=3.2)
style(ax2, (0, 21), o2_ticks)
ax2.tick_params(axis="y", right=True)
ax2.grid(True, color="#333333", ls=DASH, lw=0.8)

# ---- engine speed / load
ax3 = fig.add_axes(px_box(137, 721, 1573, 952))
speed_time = speed_start + speed_step * np.arange(len(engine_speed))
ax3.plot(speed_time, engine_speed, color=BLUE, lw=4.4)
style(ax3, (1800, 2200), speed_ticks, xpad=11.5)
ax3.tick_params(axis="y", colors=BLUE, left=True, right=False)
ax3.spines["left"].set_color(BLUE)
ax3.grid(axis="x", color="#333333", ls=DASH, lw=0.8)
ax3.grid(axis="y", color=BLUE, ls=DASH, lw=0.7, alpha=0.8)

ax4 = ax3.twinx()
lt, lv = np.array(engine_load).T
ax4.plot(lt, lv, color=GREEN, lw=3.2)
ax4.set_ylim(0, 100)
ax4.set_yticks(load_ticks)
ax4.tick_params(axis="y", direction="in", length=10, width=0.8, labelsize=FS,
                pad=6.5, colors=GREEN)
ax4.spines["left"].set_visible(False)
ax4.spines["right"].set_color("#0B5A55")
# keep the lowest load label clear of the "700" time label beneath it
ax4.yaxis.get_major_ticks()[0].label2.set_va("center_baseline")

# ---- axis titles
fig.text(41 / W_PX, 1 - 188 / H_PX, "Flow / Temp", rotation=90, ha="center", va="center", fontsize=FS)
fig.text(43 / W_PX, 1 - 503 / H_PX, "O$_2$ [%]", rotation=90, ha="center", va="center", fontsize=FS)
for y in (347, 666, 1022):
    fig.text(852 / W_PX, 1 - y / H_PX, "Time [s]", ha="center", va="center", fontsize=FS)
fig.text(22.5 / W_PX, 1 - 839 / H_PX, "Engine Speed [rpm]", rotation=90, ha="center", va="center",
         fontsize=23, color=BLUE, family="Liberation Serif")
fig.text(1656 / W_PX, 1 - 836 / H_PX, "Engine Load [%]", rotation=90, ha="center", va="center",
         fontsize=23, color=GREEN, family="Liberation Serif")

# ---- legend box across the top
fig.add_artist(Rectangle((174 / W_PX, 1 - 74 / H_PX), (1526 - 174) / W_PX, 65 / H_PX,
                         transform=fig.transFigure, fill=False, ec="black", lw=1.2))
fig.add_artist(Line2D([200 / W_PX, 339 / W_PX], [1 - 35 / H_PX] * 2, transform=fig.transFigure,
                      color=ORANGE, lw=3.0))
fig.add_artist(Line2D([832 / W_PX, 971 / W_PX], [1 - 35 / H_PX] * 2, transform=fig.transFigure,
                      color=BLUE, lw=3.0))
fig.text(354 / W_PX, 1 - 53 / H_PX, "Exhaust Flow [kg/hr]", ha="left", va="baseline", fontsize=24)
fig.text(988 / W_PX, 1 - 58 / H_PX, r"Engine Out Temp [ $^{\rm o}$C ]", ha="left", va="baseline",
         fontsize=24)

fig.savefig("out.png", dpi=100)
